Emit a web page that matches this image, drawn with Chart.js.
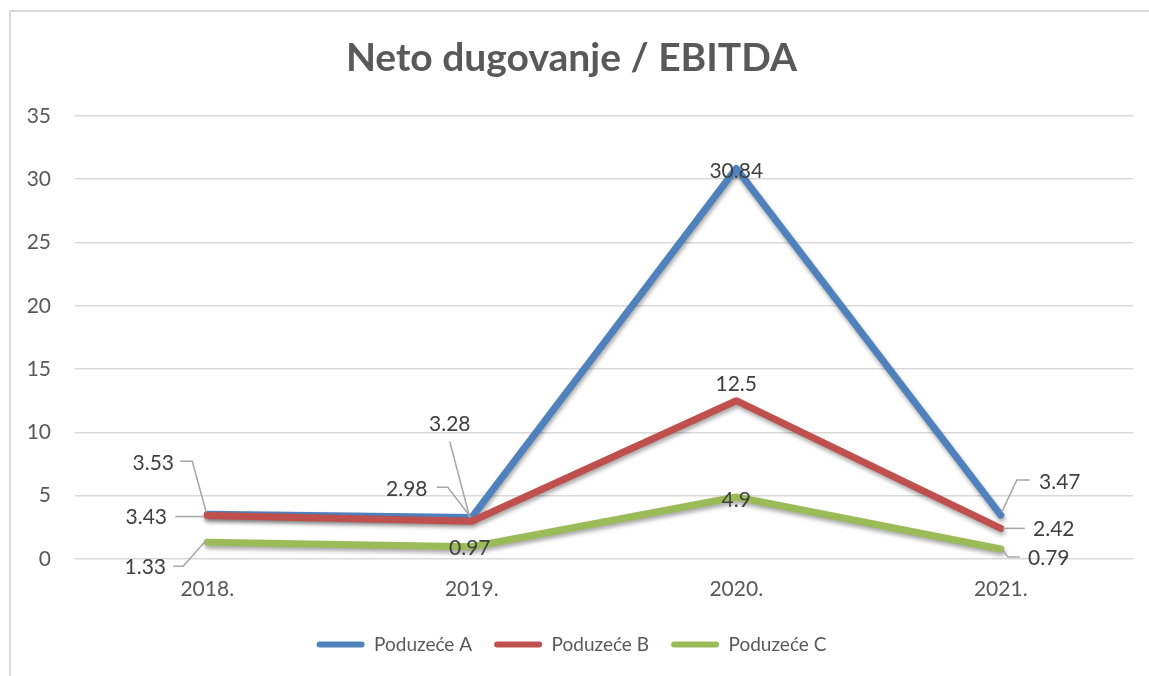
<!DOCTYPE html>
<html>
<head>
<meta charset="utf-8">
<script src="https://cdn.jsdelivr.net/npm/chart.js@4.4.0/dist/chart.umd.min.js"></script>
<style>
  body { margin: 0; background: #fff; }
  #wrap { position: relative; width: 1149px; height: 676px; }
  #frame { position: absolute; left: 9px; top: 10px; right: 0; bottom: 0;
           border-left: 2px solid #d9d9d9; border-top: 2px solid #d9d9d9; }
  canvas { position: absolute; left: 0; top: 0; }
</style>
</head>
<body>
<div id="wrap">
  <div id="frame"></div>
  <canvas id="chart" width="1149" height="676"></canvas>
</div>
<script>
// chart data
const years = ['2018.', '2019.', '2020.', '2021.'];
const poduzeceA = [3.53, 3.28, 30.84, 3.47];
const poduzeceB = [3.43, 2.98, 12.5, 2.42];
const poduzeceC = [1.33, 0.97, 4.9, 0.79];
const yTicks = [0, 5, 10, 15, 20, 25, 30, 35];

// label placement relative to each point: [dx, dy, leader path]
const labelPlacement = [
    [[-54, -51, [[-27, -53], [-15, -53], [-1, -2]]],
     [-22, -93, [[-22, -76], [-2, 0]]],
     [0, 3, null],
     [59, -33, [[29, -35], [16, -35], [1, -3]]]],
    [[-61, 2, [[-32, 1], [-3, 1]]],
     [-65, -32, [[-35, -34], [-24, -34], [-1, -4]]],
     [0, -16, null],
     [53, 1, [[2, 0], [24, 0]]]],
    [[-62, 25, [[-34, 24], [-24, 24], [-2, -1]]],
     [-2, 2, null],
     [0, 3, null],
     [48, 9, [[2, 1], [7, 8], [19, 8]]]]
];

const FONT = 'Lato, "DejaVu Sans", sans-serif';

// soft shadow under each line
const shadowPlugin = {
    id: 'lineShadow',
    beforeDatasetDraw(chart) {
        const ctx = chart.ctx;
        ctx.save();
        ctx.shadowColor = 'rgba(0,0,0,0.35)';
        ctx.shadowBlur = 4;
        ctx.shadowOffsetX = 1;
        ctx.shadowOffsetY = 3;
    },
    afterDatasetDraw(chart) {
        chart.ctx.restore();
    }
};

// value labels with leader lines
const labelPlugin = {
    id: 'valueLabels',
    afterDatasetsDraw(chart) {
        const ctx = chart.ctx;
        ctx.save();
        chart.data.datasets.forEach((ds, di) => {
            const meta = chart.getDatasetMeta(di);
            meta.data.forEach((pt, i) => {
                const place = labelPlacement[di][i];
                if (place[2]) {
                    ctx.beginPath();
                    ctx.strokeStyle = '#a6a6a6';
                    ctx.lineWidth = 1.5;
                    place[2].forEach((p, k) => {
                        if (k === 0) ctx.moveTo(pt.x + p[0], pt.y + p[1]);
                        else ctx.lineTo(pt.x + p[0], pt.y + p[1]);
                    });
                    ctx.stroke();
                }
                ctx.fillStyle = '#404040';
                ctx.font = '21px ' + FONT;
                ctx.textAlign = 'center';
                ctx.textBaseline = 'middle';
                ctx.fillText(String(ds.data[i]), pt.x + place[0], pt.y + place[1]);
            });
        });
        ctx.restore();
    }
};

function series(label, data, color, order) {
    return {
        label: label,
        data: data,
        borderColor: color,
        backgroundColor: color,
        borderWidth: 7,
        pointRadius: 0,
        tension: 0,
        borderCapStyle: 'round',
        borderJoinStyle: 'round',
        order: order
    };
}

const ctx = document.getElementById('chart').getContext('2d');
new Chart(ctx, {
    type: 'line',
    data: {
        labels: years,
        datasets: [
            series('Poduzeće A', poduzeceA, '#4f81bd', 3),
            series('Poduzeće B', poduzeceB, '#c0504d', 2),
            series('Poduzeće C', poduzeceC, '#9bbb59', 1)
        ]
    },
    options: {
        responsive: false,
        animation: false,
        layout: { padding: { left: 10, right: 16, bottom: 12 } },
        scales: {
            x: {
                offset: true,
                afterFit: (scale) => { scale.height = 54; },
                grid: { display: false, drawTicks: false },
                border: { display: false },
                ticks: { color: '#595959', font: { family: FONT, size: 21 }, padding: 18 }
            },
            y: {
                min: 0,
                max: 35,
                afterBuildTicks: (scale) => { scale.ticks = yTicks.map(v => ({ value: v })); },
                afterFit: (scale) => { scale.width = 65; },
                grid: { color: '#d9d9d9', lineWidth: 1.5, drawTicks: false },
                border: { display: false },
                ticks: { color: '#595959', font: { family: FONT, size: 21 }, padding: 24 }
            }
        },
        plugins: {
            title: {
                display: true,
                text: 'Neto dugovanje / EBITDA',
                color: '#595959',
                font: { family: FONT, size: 39, weight: 'bold' },
                padding: { top: 35, bottom: 34 }
            },
            legend: {
                position: 'bottom',
                labels: {
                    color: '#595959',
                    font: { family: FONT, size: 19 },
                    boxWidth: 48,
                    boxHeight: 6,
                    padding: 22,
                    useBorderRadius: true,
                    borderRadius: 3,
                    sort: (a, b) => a.datasetIndex - b.datasetIndex,
                    generateLabels: (chart) => Chart.defaults.plugins.legend.labels.generateLabels(chart)
                        .map(item => Object.assign(item, { lineWidth: 0 }))
                }
            },
            tooltip: { enabled: false }
        }
    },
    plugins: [shadowPlugin, labelPlugin]
});
</script>
</body>
</html>
